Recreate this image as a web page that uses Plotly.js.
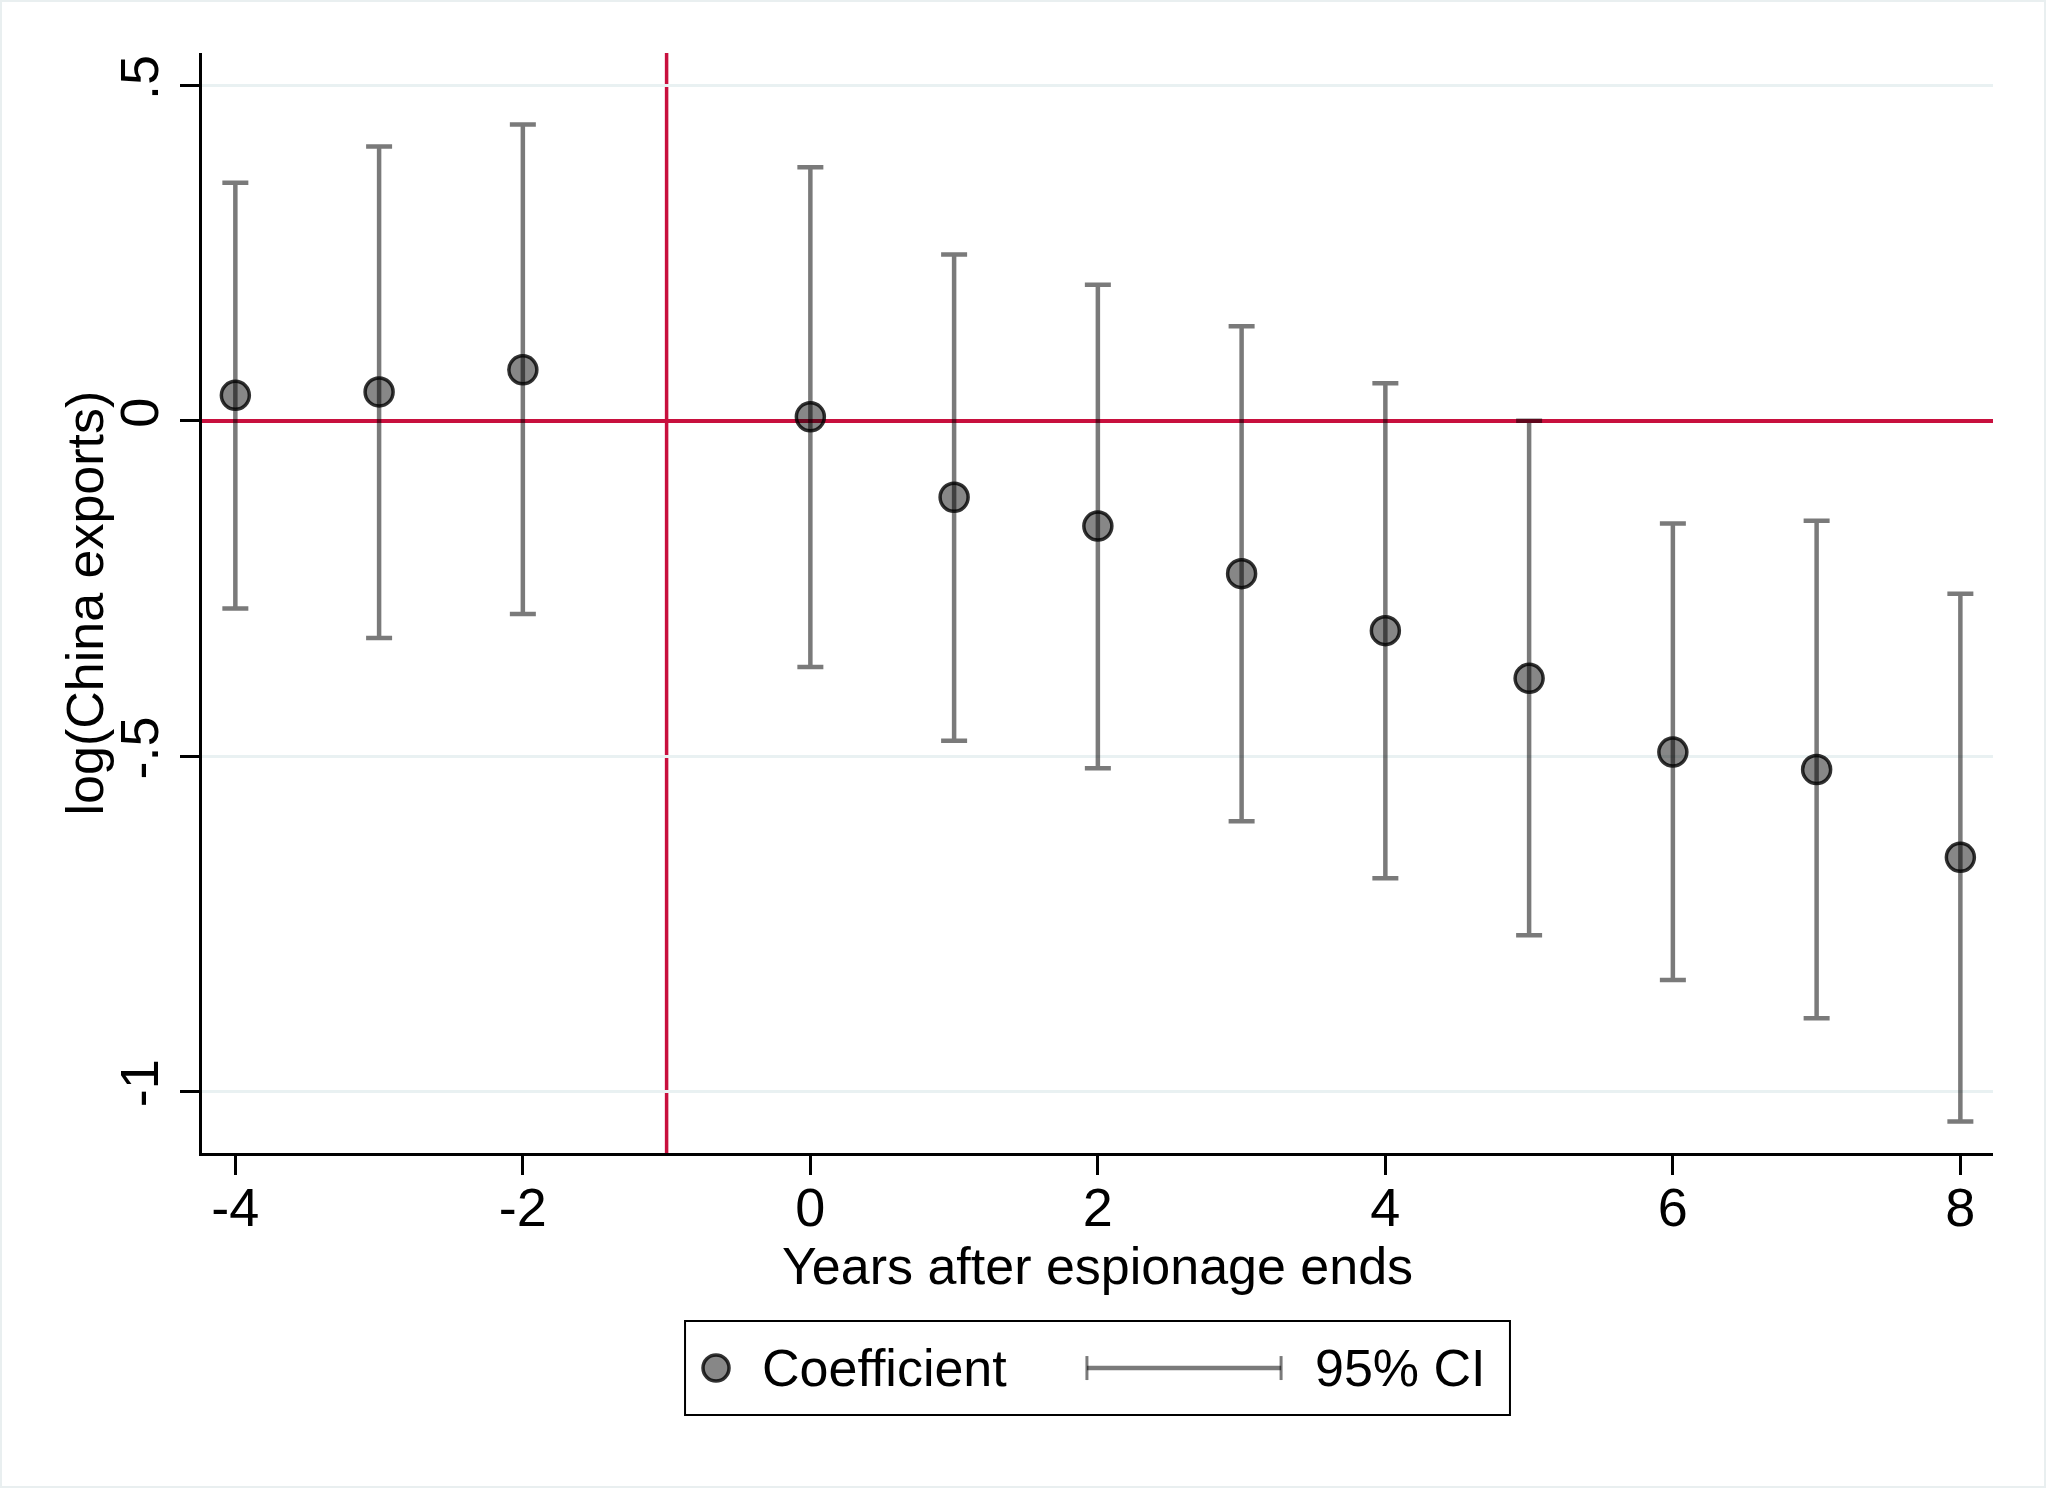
<!DOCTYPE html>
<html>
<head>
<meta charset="utf-8">
<script src="https://cdn.plot.ly/plotly-3.0.1.min.js"></script>
<style>
  body { margin: 0; background: #fff; }
  #event-plot { width: 2046px; height: 1488px; }
  #frame { position: absolute; left: 0; top: 0; width: 2046px; height: 1488px;
           box-sizing: border-box; border: 2px solid #e9eff0; pointer-events: none; }
</style>
</head>
<body>
<div id="event-plot"></div>
<div id="frame"></div>
<script>
/* Event study: China exports around the end of espionage */
var years  = [-4, -3, -2, 0, 1, 2, 3, 4, 5, 6, 7, 8];
var coef   = [0.038, 0.043, 0.076, 0.006, -0.114, -0.157, -0.228, -0.313, -0.384, -0.494, -0.520, -0.651];
var ciLow  = [-0.280, -0.324, -0.288, -0.367, -0.477, -0.518, -0.597, -0.682, -0.767, -0.834, -0.891, -1.045];
var ciHigh = [0.355, 0.409, 0.442, 0.378, 0.248, 0.203, 0.141, 0.056, 0.000, -0.153, -0.149, -0.258];
var yTickVals = [-1, -0.5, 0, 0.5];
var yTickText = ['-1', '-.5', '0', '.5'];
var xTickVals = [-4, -2, 0, 2, 4, 6, 8];
var xTickText = ['-4', '-2', '0', '2', '4', '6', '8'];
var eventYear = -1; // last year of espionage
var legendNames = ['Coefficient', '95% CI'];

var red = '#c8103e';
var ciGray = 'rgba(0,0,0,0.52)';
var dotFill = 'rgba(0,0,0,0.47)';
var dotEdge = 'rgba(0,0,0,0.8)';
var font = 'Liberation Sans, Arial, Helvetica, sans-serif';

var trace0 = {
    x: years,
    y: coef,
    mode: 'markers',
    type: 'scatter',
    name: legendNames[0],
    marker: {size: 28, color: dotFill, line: {color: dotEdge, width: 3.5}},
    error_y: {
        type: 'data',
        symmetric: false,
        array: ciHigh.map(function (h, i) { return h - coef[i]; }),
        arrayminus: ciLow.map(function (l, i) { return coef[i] - l; }),
        color: ciGray,
        thickness: 4.5,
        width: 13
    },
    hoverinfo: 'x+y'
};

// legend key, drawn by hand (Plotly's own legend has no capped-line symbol)
var legY = -0.1955;
var legendShapes = [
    {type: 'rect', xref: 'paper', yref: 'paper', x0: 0.2697, x1: 0.7303, y0: -0.2382, y1: -0.1527,
     line: {color: 'black', width: 2}, fillcolor: 'white'},
    {type: 'circle', xref: 'paper', yref: 'paper', xsizemode: 'pixel', ysizemode: 'pixel',
     xanchor: 0.287, yanchor: legY, x0: -13, x1: 13, y0: -13, y1: 13,
     fillcolor: dotFill, line: {color: dotEdge, width: 3.5}},
    {type: 'line', xref: 'paper', yref: 'paper', x0: 0.4941, x1: 0.6025, y0: legY, y1: legY,
     line: {color: ciGray, width: 4.5}},
    {type: 'line', xref: 'paper', yref: 'paper', ysizemode: 'pixel', yanchor: legY,
     x0: 0.4941, x1: 0.4941, y0: -12, y1: 12, line: {color: ciGray, width: 3}},
    {type: 'line', xref: 'paper', yref: 'paper', ysizemode: 'pixel', yanchor: legY,
     x0: 0.6025, x1: 0.6025, y0: -12, y1: 12, line: {color: ciGray, width: 3}}
];

var layout0 = {
    width: 2046,
    height: 1488,
    paper_bgcolor: 'white',
    plot_bgcolor: 'white',
    font: {family: font, size: 52, color: 'black'},
    showlegend: false,
    margin: {l: 202, r: 53, t: 53, b: 335},
    xaxis: {
        range: [-4.232, 8.227],
        tickvals: xTickVals,
        ticktext: xTickText,
        tickfont: {size: 54},
        ticks: 'outside', ticklen: 19, tickwidth: 3, tickcolor: 'black',
        ticklabelstandoff: -14,
        showline: true, linecolor: 'black', linewidth: 3,
        showgrid: false, zeroline: false,
        title: {text: 'Years after espionage ends', font: {size: 52}, standoff: 4}
    },
    yaxis: {
        range: [-1.0919, 0.5485],
        tickvals: yTickVals,
        ticktext: yTickText,
        tickfont: {size: 54},
        tickangle: -90,
        ticks: 'outside', ticklen: 19, tickwidth: 3, tickcolor: 'black',
        ticklabelstandoff: 0,
        showline: true, linecolor: 'black', linewidth: 3,
        showgrid: true, gridcolor: '#e9f1f2', gridwidth: 3,
        zeroline: true, zerolinecolor: red, zerolinewidth: 3.5
    },
    shapes: [
        {type: 'line', xref: 'x', x0: eventYear, x1: eventYear, yref: 'paper', y0: 0, y1: 1,
         layer: 'between', line: {color: red, width: 3.5}}
    ].concat(legendShapes),
    annotations: [
        // y title as an annotation: the axis title sits too far from the rotated tick labels
        {xref: 'paper', yref: 'paper', x: -0.0656, y: 0.5, xanchor: 'center', yanchor: 'middle',
         textangle: -90, text: 'log(China exports)', showarrow: false, font: {size: 52}},
        {xref: 'paper', yref: 'paper', x: 0.3116, y: legY, xanchor: 'left', yanchor: 'middle',
         text: legendNames[0], showarrow: false, font: {size: 52}},
        {xref: 'paper', yref: 'paper', x: 0.6203, y: legY, xanchor: 'left', yanchor: 'middle',
         text: legendNames[1], showarrow: false, font: {size: 52}}
    ]
};

Plotly.newPlot('event-plot', [trace0], layout0, {displayModeBar: false});
</script>
</body>
</html>
